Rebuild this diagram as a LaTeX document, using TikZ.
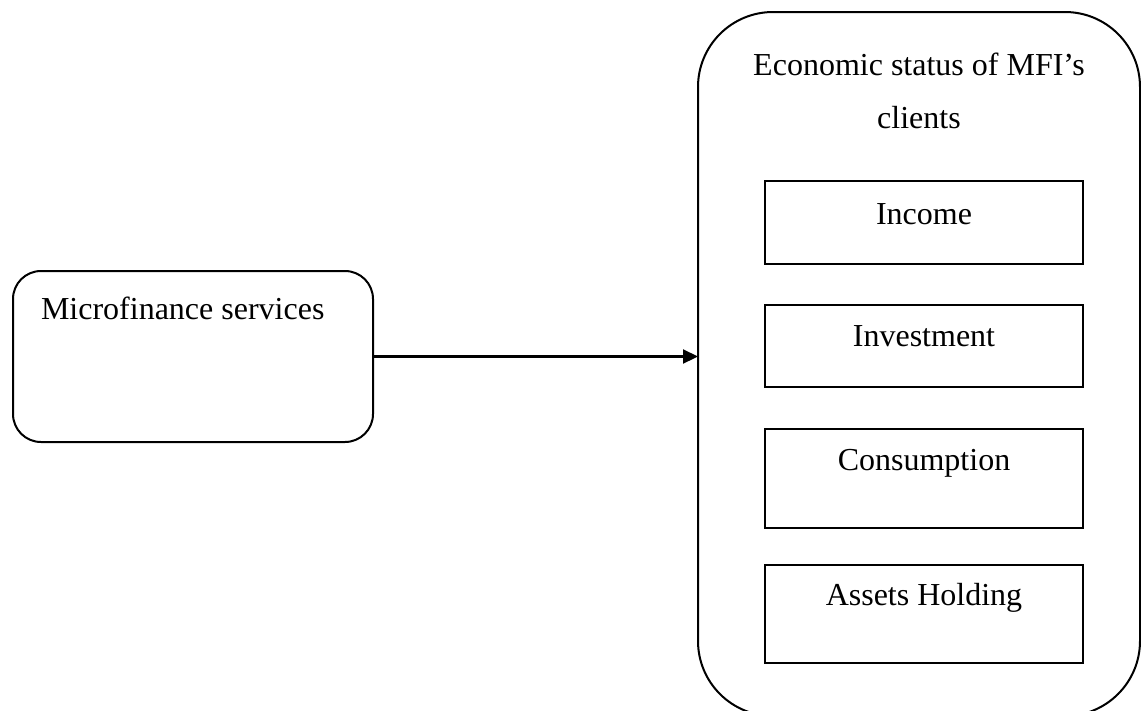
\documentclass[tikz,border=0pt]{standalone}
\usepackage{fontspec}
\setmainfont{Liberation Serif}
\usetikzlibrary{arrows.meta,calc}
\begin{document}
\begin{tikzpicture}[x=1pt,y=-1pt,
  every node/.style={inner sep=0pt,outer sep=0pt},
  frame/.style={draw,line width=2pt,rounded corners=#1},
  inbox/.style={draw,line width=2pt,minimum width=318pt},
  txt/.style={anchor=base,font=\fontsize{32}{38}\selectfont},
  conn/.style={line width=2.2pt,-{Triangle[length=15pt,width=14pt]}}]
\useasboundingbox (0,0) rectangle (1141,710);
\fill[white] (0,0) rectangle (1141,710);
% left box
\node[frame=28pt,minimum width=360pt,minimum height=171pt] (ms) at (193,356.5) {};
\node[txt,anchor=base west] (mst) at (41,319) {Microfinance services};
% big box
\node[frame=75pt,minimum width=442pt,minimum height=704pt] (big) at (919,364) {};
\node[txt] (t1) at (919,75) {Economic status of MFI’s};
\node[txt] (t2) at (919,128) {clients};
% inner boxes
\node[inbox,minimum height=83pt] (inc) at (924,222.5) {};
\node[txt] (inct) at (924,224) {Income};
\node[inbox,minimum height=82pt] (inv) at (924,346) {};
\node[txt] (invt) at (924,346) {Investment};
\node[inbox,minimum height=99pt] (con) at (924,478.5) {};
\node[txt] (cont) at (924,470) {Consumption};
\node[inbox,minimum height=98pt] (ass) at (924,614) {};
\node[txt] (asst) at (924,605) {Assets Holding};
% connector
\draw[conn] (ms.east) -- (ms.east -| big.west);
\end{tikzpicture}
\end{document}
